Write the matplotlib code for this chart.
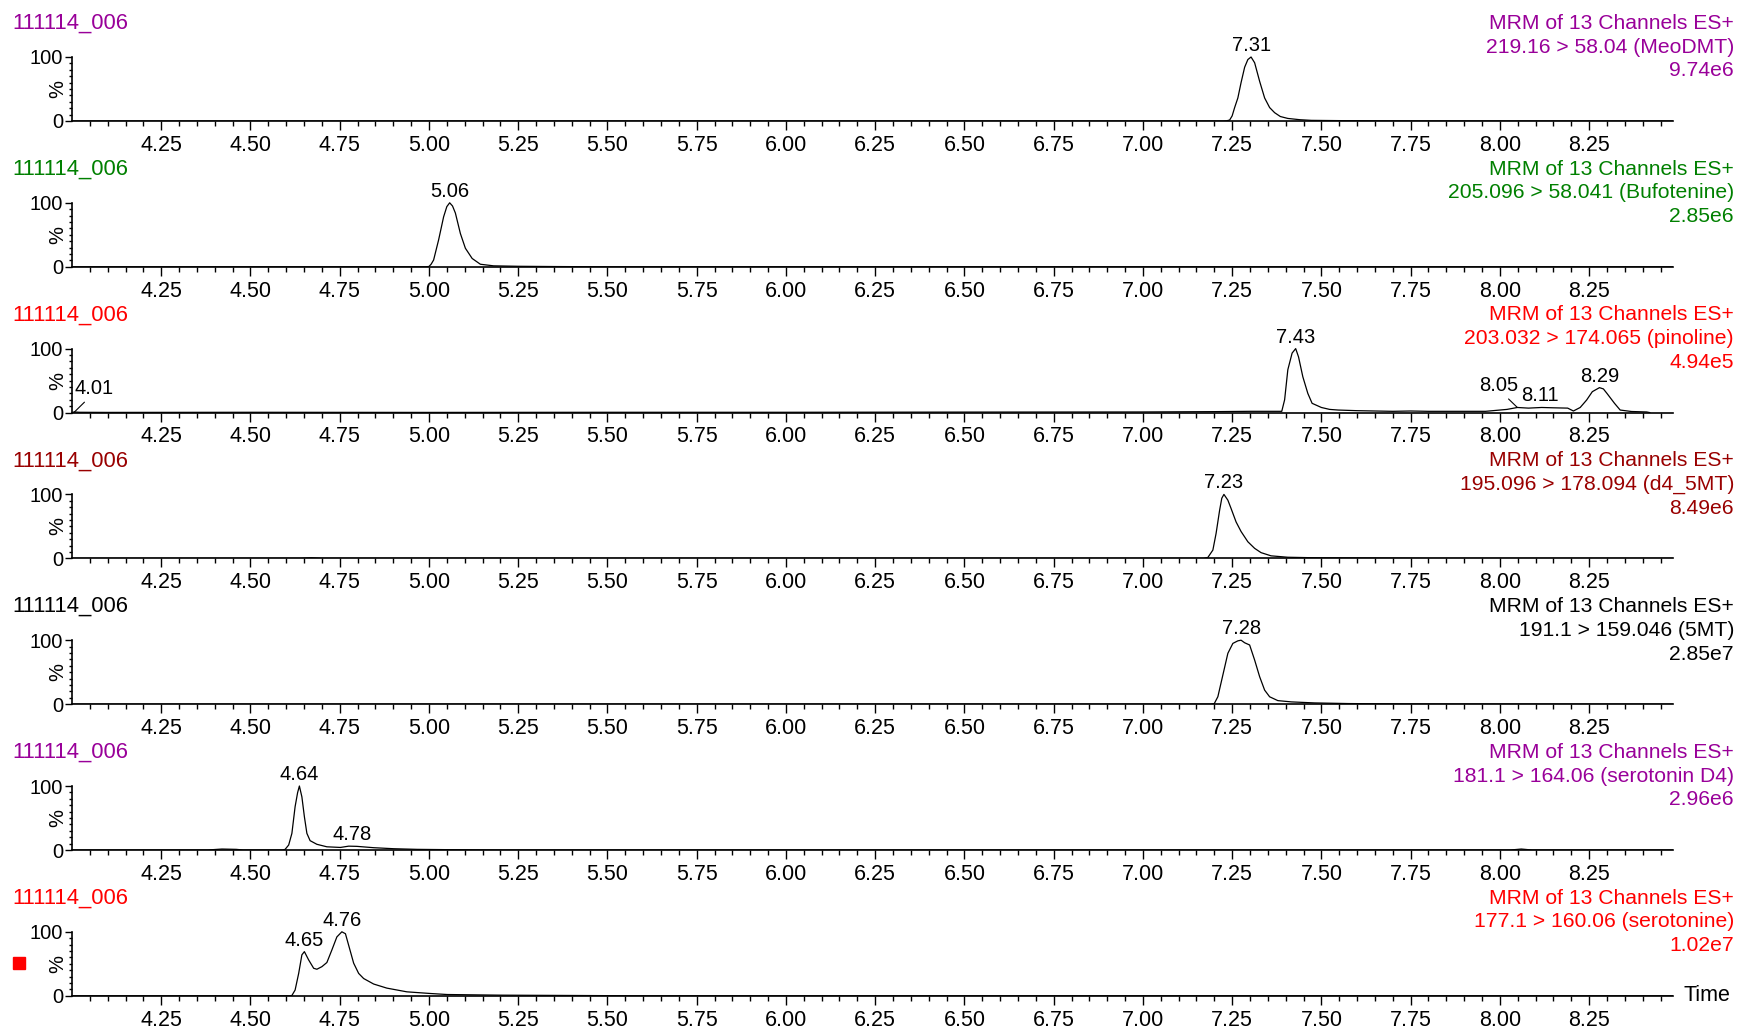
import matplotlib
matplotlib.use("Agg")
import matplotlib.pyplot as plt
import matplotlib.transforms as mtransforms
from matplotlib.patches import Rectangle
from matplotlib.ticker import FixedLocator

plt.rcParams['font.family'] = ['Liberation Sans', 'DejaVu Sans']

# ---- data (time in min, intensity in %) ----
sample = "111114_006"
scan_title = "MRM of 13 Channels ES+"
transitions = ["219.16 > 58.04 (MeoDMT)",
               "205.096 > 58.041 (Bufotenine)",
               "203.032 > 174.065 (pinoline)",
               "195.096 > 178.094 (d4_5MT)",
               "191.1 > 159.046 (5MT)",
               "181.1 > 164.06 (serotonin D4)",
               "177.1 > 160.06 (serotonine)"]
max_counts = ["9.74e6", "2.85e6", "4.94e5", "8.49e6", "2.85e7", "2.96e6", "1.02e7"]
header_colors = ["#990099", "#008000", "#ff0000", "#990000", "black", "#990099", "#ff0000"]

t1 = [4.00, 7.225, 7.235, 7.243, 7.25, 7.257, 7.266, 7.275, 7.285, 7.294, 7.303, 7.313,
      7.327, 7.341, 7.355, 7.369, 7.385, 7.406, 7.44, 7.472, 7.55, 7.65, 7.80, 8.485]
i1 = [0, 0, 0.4, 1.5, 8, 21, 36, 60, 84, 96, 100, 91,
      62, 36, 21, 13, 7, 4, 2, 1, 0.6, 0.3, 0.1, 0]

t2 = [4.00, 4.99, 5.00, 5.006, 5.013, 5.027, 5.041, 5.05, 5.058, 5.066, 5.074,
      5.088, 5.102, 5.121, 5.144, 5.181, 5.25, 5.35, 5.50, 8.485]
i2 = [0, 0, 0.5, 4, 10.6, 42, 78, 94, 100, 95, 84,
      52, 29, 13, 4, 1.5, 0.8, 0.4, 0, 0]

t3 = [4.00, 4.006, 4.02, 4.10, 4.50, 5.00, 5.50, 6.00, 6.50, 7.00, 7.20, 7.30,
      7.38, 7.389, 7.397, 7.406, 7.418, 7.428, 7.436, 7.448, 7.462, 7.474, 7.50,
      7.523, 7.547, 7.60, 7.70, 7.75, 7.80, 7.90, 7.96, 8.00, 8.02, 8.049, 8.08,
      8.117, 8.15, 8.19, 8.206, 8.225, 8.243, 8.259, 8.279, 8.29, 8.30, 8.321,
      8.337, 8.369, 8.411, 8.42]
i3 = [0, 1, 0.5, 0.3, 0.5, 0.3, 0.5, 0.5, 0.8, 1, 1.5, 2,
      2, 2, 20, 67, 93, 100, 87, 56, 30, 14.5, 8,
      5, 4, 3, 2, 2.5, 2, 2, 2, 4, 5, 8, 7,
      8, 7.5, 7, 2.5, 8, 19.6, 32.7, 39, 37, 30, 14.6,
      4, 1.7, 1, 0]

t4 = [4.00, 4.64, 4.67, 4.70, 7.17, 7.182, 7.196, 7.205, 7.215, 7.221, 7.227,
      7.238, 7.247, 7.261, 7.275, 7.294, 7.313, 7.331, 7.359, 7.406, 7.481,
      7.668, 7.80, 8.485]
i4 = [0, 0, 1, 0, 0, 1.5, 13, 39, 75.6, 94, 100,
      91, 78, 57, 42, 26, 15.7, 9, 4, 1.8, 1,
      0.5, 0, 0]

t5 = [4.00, 7.19, 7.20, 7.21, 7.224, 7.238, 7.252, 7.266, 7.275, 7.285, 7.299,
      7.313, 7.327, 7.341, 7.355, 7.378, 7.416, 7.481, 7.575, 7.704, 7.85, 8.485]
i5 = [0, 0, 1, 11.7, 45.6, 79.5, 95, 99, 100, 96, 92.5,
      69, 43, 22, 11.6, 5.6, 3.6, 2, 1, 0.5, 0.2, 0]

t6 = [4.00, 4.38, 4.42, 4.46, 4.48, 4.59, 4.597, 4.607, 4.616, 4.625, 4.632,
      4.637, 4.644, 4.651, 4.658, 4.667, 4.686, 4.714, 4.752, 4.775, 4.798,
      4.845, 4.901, 4.967, 5.06, 5.20, 8.03, 8.06, 8.09, 8.485]
i6 = [0, 0, 1.5, 1, 0, 0, 1, 7.8, 26, 67.7, 89.6,
      100, 83, 52, 26, 14.6, 8.9, 5, 4, 6, 5.7,
      3.6, 2, 1, 0.5, 0, 0, 1.5, 0, 0]

t7 = [4.00, 4.61, 4.616, 4.625, 4.635, 4.644, 4.651, 4.663, 4.677, 4.686, 4.70,
      4.714, 4.728, 4.742, 4.756, 4.766, 4.775, 4.789, 4.803, 4.817, 4.845,
      4.882, 4.938, 5.004, 5.051, 5.20, 5.40, 5.60, 8.485]
i7 = [0, 0, 0.5, 9, 35, 64, 69, 56, 43, 41.5, 45.5,
      52, 71.6, 92, 100, 97, 79, 51, 35, 27, 18.4,
      12, 6.2, 3.6, 2, 1, 0.5, 0, 0]

times = [t1, t2, t3, t4, t5, t6, t7]
traces = [i1, i2, i3, i4, i5, i6, i7]

# peak labels: (text, time, height)
peak_labels = [
    [("7.31", 7.303, 100)],
    [("5.06", 5.058, 100)],
    [("7.43", 7.428, 100), ("8.11", 8.112, 8), ("8.29", 8.279, 39)],
    [("7.23", 7.227, 100)],
    [("7.28", 7.275, 100)],
    [("4.64", 4.637, 100), ("4.78", 4.784, 6)],
    [("4.65", 4.651, 69), ("4.76", 4.756, 100)],
]
# displaced labels with leader line: (panel, text, time, height, text time, text height, anchor)
leader_labels = [
    (2, "4.01", 4.006, 0.5, 4.062, 37, 0.35),
    (2, "8.05", 8.049, 8, 7.997, 42, 0.65),
]

major_ticks = [4.25, 4.50, 4.75, 5.00, 5.25, 5.50, 5.75, 6.00, 6.25, 6.50,
               6.75, 7.00, 7.25, 7.50, 7.75, 8.00, 8.25]
minor_ticks = [round(4.05 + 0.05 * k, 2) for k in range(89)]
xmin, xmax = 4.0, 8.485

# ---- layout (pixels of a 1738x1028 figure) ----
W, H = 1738, 1028
x_left, x_right = 72, 1673
zero0, step, px100 = 121, 145.8, 64
ytop = 140

fig = plt.figure(figsize=(W / 100, H / 100), dpi=100)

axes = []
for k in range(7):
    y0 = zero0 + k * step
    ax = fig.add_axes([x_left / W, 1 - y0 / H, (x_right - x_left) / W,
                       px100 * ytop / 100 / H])
    ax.plot(times[k], traces[k], color="black", lw=0.9)
    ax.set_xlim(xmin, xmax)
    ax.set_ylim(0, ytop)
    for s in ["top", "right"]:
        ax.spines[s].set_visible(False)
    ax.spines["left"].set_bounds(0, 100)
    ax.spines["left"].set_linewidth(1.2)
    ax.spines["bottom"].set_linewidth(1.2)

    ax.set_xticks(major_ticks)
    ax.set_xticklabels(["%.2f" % v for v in major_ticks], fontsize=15.5)
    ax.xaxis.set_minor_locator(FixedLocator(minor_ticks))
    ax.tick_params(axis="x", which="major", length=6.7, width=1, pad=3.3)
    ax.tick_params(axis="x", which="minor", length=3.4, width=1)

    ax.set_yticks([0, 100])
    ax.set_yticklabels(["0", "100"], fontsize=14.5)
    ax.yaxis.set_minor_locator(FixedLocator(list(range(10, 100, 10))))
    ax.tick_params(axis="y", which="major", length=5, width=1, pad=1.5)
    ax.tick_params(axis="y", which="minor", length=2, width=1)

    ax.text(-14.5 / (x_right - x_left), 50 / ytop, "%", rotation=90,
            ha="center", va="center", fontsize=14.5, transform=ax.transAxes)

    for txt, t, h in peak_labels[k]:
        ax.annotate(txt, (t, h), xytext=(0, 1.5), textcoords="offset points",
                    ha="center", va="bottom", fontsize=14.5, annotation_clip=False)

    # headers
    fig.text(12 / W, 1 - (23.3 + k * step) / H, sample, color=header_colors[k],
             fontsize=15.8, ha="left", va="center")
    for j, line in enumerate([scan_title, transitions[k], max_counts[k]]):
        fig.text(1734 / W, 1 - (23.3 + 23.8 * j + k * step) / H, line,
                 color=header_colors[k], fontsize=15.2, ha="right", va="center")
    axes.append(ax)

for k, txt, t, h, tt, th, rx in leader_labels:
    axes[k].annotate(txt, (t, h), xytext=(tt, th), textcoords="data",
                     ha="center", va="center", fontsize=14.5,
                     arrowprops=dict(arrowstyle="-", lw=0.8, color="black",
                                     relpos=(rx, 0), shrinkA=1, shrinkB=0))

last = axes[-1]
trans = mtransforms.blended_transform_factory(last.transAxes, last.transData)
last.text((1683 - x_left) / (x_right - x_left), 0, "Time", transform=trans,
          ha="left", va="center", fontsize=15.5)

fig.patches.append(Rectangle((13 / W, 1 - 968.5 / H), 12 / W, 12 / H,
                             transform=fig.transFigure, color="#ff0000"))

fig.savefig("out.png", dpi=100)
